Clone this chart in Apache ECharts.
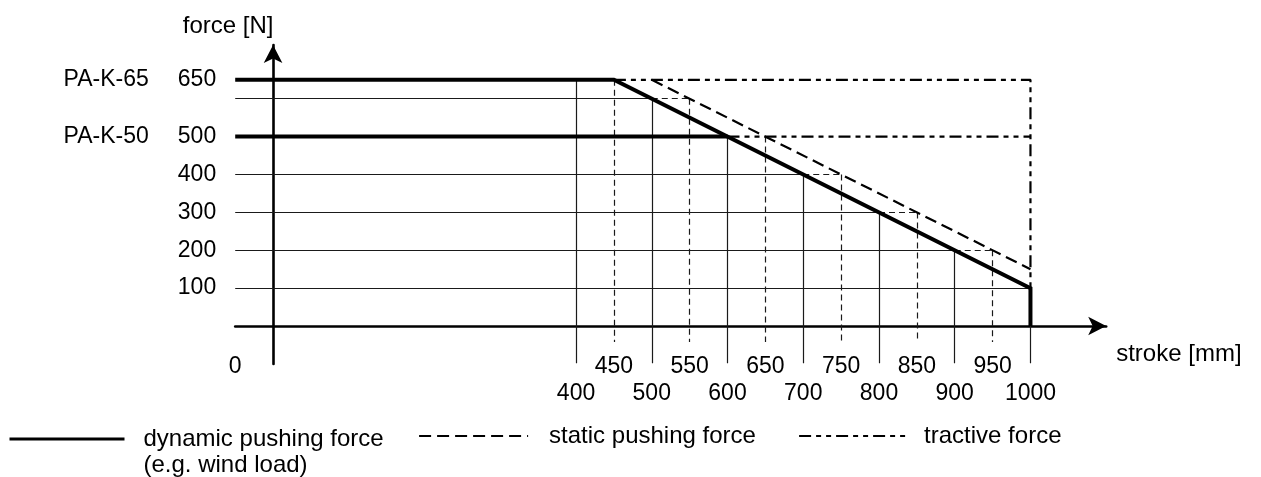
<!DOCTYPE html>
<html>
<head>
<meta charset="utf-8">
<script src="https://cdn.jsdelivr.net/npm/echarts@6/dist/echarts.min.js"></script>
<style>
  html, body { margin: 0; padding: 0; background: #fff; }
  #chart { width: 1261px; height: 477px; }
</style>
</head>
<body>
<div id="chart"></div>
<script>
// ---- data ----
const xUpperLabels = [450, 550, 650, 750, 850, 950];
const xLowerLabels = [400, 500, 600, 700, 800, 900, 1000];
const originLabel = '0';
const yLabels = [100, 200, 300, 400, 500, 650];
const modelForces = [650, 500];
const modelNames = ['PA-K-65', 'PA-K-50'];

const dynamicK65 = [[-50, 650], [450, 650], [1000, 100], [1000, 0]];
const dynamicK50 = [[-50, 500], [600, 500]];
const staticForce = [[500, 650], [1000, 150]];
const tractiveK65 = [[450, 650], [1000, 650], [1000, 100]];
const tractiveK50 = [[600, 500], [1000, 500]];

// grid segments: [force, stroke end] / [stroke, force top]
const gridSolidH = [[100, 1000], [200, 900], [300, 800], [400, 700], [600, 500]];
const gridSolidV = [[400, 650], [500, 600], [600, 500], [700, 400], [800, 300], [900, 200], [1000, 100]];
const gridDashV = [[450, 650], [550, 600], [650, 500], [750, 400], [850, 300], [950, 200]];
const gridDashH = [[600, 500, 550], [400, 700, 750], [300, 800, 850], [200, 900, 950]];

const legendNames = ['dynamic pushing force', 'static pushing force', 'tractive force'];
const legendSub = '(e.g. wind load)';

// ---- layout / style ----
const FONT = 'Liberation Sans, Arial, Helvetica, sans-serif';
const gridStart = -50, solidTickEnd = -98, dashTickEnd = -42;
const black = '#000';
const thin = '#1a1a1a';

const solidH = gridSolidH.map(d => ({ coords: [[gridStart, d[0]], [d[1], d[0]]] }));
const solidV = gridSolidV.map(d => ({ coords: [[d[0], d[1]], [d[0], solidTickEnd]] }));
const dashV = gridDashV.map(d => ({ coords: [[d[0], d[1]], [d[0], dashTickEnd]] }));
const dashH = gridDashH.map(d => ({ coords: [[d[1], d[0]], [d[2], d[0]]] }));

const chart = echarts.init(document.getElementById('chart'), null, { renderer: 'canvas' });

function legendFor(i, left, width, padLeft, top, extra) {
  return Object.assign({
    show: true,
    left: left, top: top, padding: 0,
    orient: 'horizontal',
    itemWidth: width, itemHeight: 14,
    selectedMode: false,
    data: [legendNames[i]],
    itemStyle: { opacity: 0 },
    textStyle: { fontFamily: FONT, fontSize: 24, color: black, lineHeight: 26, padding: [0, 0, 0, padLeft] },
    lineStyle: { width: 2.2 }
  }, extra || {});
}

const option = {
  animation: false,
  backgroundColor: '#fff',
  grid: { left: 235.2, right: 154.8, top: 44.95, bottom: 113.1, containLabel: false },
  xAxis: {
    type: 'value', min: -50, max: 1100, interval: 50,
    name: 'stroke [mm]', nameLocation: 'end', nameGap: 10,
    nameTextStyle: { fontFamily: FONT, fontSize: 24, color: black, verticalAlign: 'top', lineHeight: 24, padding: [16, 0, 0, 0] },
    axisLine: { show: true, onZero: true, symbol: ['none', 'arrow'], symbolSize: [14, 18],
      lineStyle: { color: black, width: 2.6 } },
    axisTick: { show: false },
    splitLine: { show: false },
    axisLabel: {
      show: true, margin: -11, fontFamily: FONT, fontSize: 23, color: black, lineHeight: 27,
      showMinLabel: true, showMaxLabel: false,
      formatter: function (v) {
        if (v === gridStart) return originLabel;
        if (xUpperLabels.indexOf(v) >= 0) return String(v);
        if (xLowerLabels.indexOf(v) >= 0) return '\n' + v;
        return '';
      }
    }
  },
  yAxis: {
    type: 'value', min: -100, max: 742, interval: 50,
    name: 'force [N]', nameLocation: 'end', nameGap: 7,
    nameTextStyle: { fontFamily: FONT, fontSize: 24, color: black, padding: [0, 90, 0, 0] },
    axisLine: { show: true, onZero: true, symbol: ['none', 'arrow'], symbolSize: [14, 18],
      lineStyle: { color: black, width: 2.6 } },
    axisTick: { show: false },
    splitLine: { show: false },
    axisLabel: {
      show: true, margin: 19, fontFamily: FONT, fontSize: 23, color: black,
      formatter: function (v) {
        const m = modelForces.indexOf(v);
        if (m >= 0) return '{n|' + modelNames[m] + '}{v|' + v + '}';
        if (yLabels.indexOf(v) >= 0) return String(v);
        return '';
      },
      rich: {
        n: { fontFamily: FONT, fontSize: 23, color: black, padding: [0, 29, 0, 0] },
        v: { fontFamily: FONT, fontSize: 23, color: black }
      }
    }
  },
  legend: [
    legendFor(0, 8, 115, 14, 400, {
      formatter: function (n) { return '\n' + n + '\n' + legendSub; },
      lineStyle: { width: 3 }
    }),
    legendFor(1, 418, 109, 16, 423),
    legendFor(2, 798, 109, 11, 423)
  ],
  series: [
    { name: 'grid-solid-h', type: 'lines', coordinateSystem: 'cartesian2d', silent: true, z: 1,
      lineStyle: { color: thin, width: 1.2, opacity: 1 }, data: solidH },
    { name: 'grid-solid-v', type: 'lines', coordinateSystem: 'cartesian2d', silent: true, z: 1,
      lineStyle: { color: thin, width: 1.2, opacity: 1 }, data: solidV },
    { name: 'grid-dash-v', type: 'lines', coordinateSystem: 'cartesian2d', silent: true, z: 1,
      lineStyle: { color: thin, width: 1.2, opacity: 1, type: [6, 4] }, data: dashV },
    { name: 'grid-dash-h', type: 'lines', coordinateSystem: 'cartesian2d', silent: true, z: 1,
      lineStyle: { color: thin, width: 1.2, opacity: 1, type: [6, 4] }, data: dashH },
    { name: legendNames[1], type: 'line', data: staticForce, symbol: 'none', silent: true, z: 3,
      itemStyle: { color: black },
      lineStyle: { color: black, width: 2.2, type: [12, 6] } },
    { name: legendNames[2], type: 'line', data: tractiveK65, symbol: 'none', silent: true, z: 3,
      itemStyle: { color: black },
      lineStyle: { color: black, width: 2.2, type: [12, 5, 5, 5, 5, 5] } },
    { name: legendNames[2] + ' 50', type: 'line', data: tractiveK50, symbol: 'none', silent: true, z: 3,
      itemStyle: { color: black },
      lineStyle: { color: black, width: 2.2, type: [12, 5, 5, 5, 5, 5] } },
    { name: legendNames[0], type: 'line', data: dynamicK65, symbol: 'none', silent: true, z: 5,
      itemStyle: { color: black },
      lineStyle: { color: black, width: 4, cap: 'butt', join: 'miter' } },
    { name: legendNames[0] + ' 50', type: 'line', data: dynamicK50, symbol: 'none', silent: true, z: 5,
      itemStyle: { color: black },
      lineStyle: { color: black, width: 4, cap: 'butt' } }
  ]
};
chart.setOption(option);
</script>
</body>
</html>
